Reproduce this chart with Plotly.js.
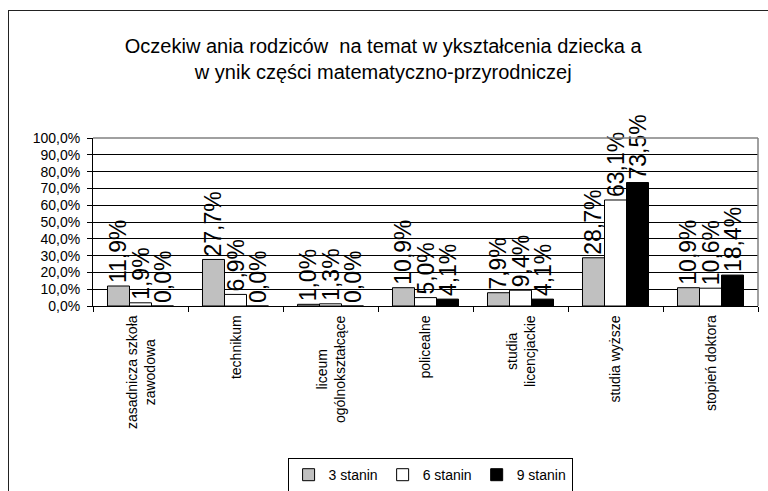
<!DOCTYPE html>
<html>
<head>
<meta charset="utf-8">
<script src="https://cdn.plot.ly/plotly-3.0.1.min.js"></script>
<style>
  html, body { margin: 0; padding: 0; background: #fff; }
  #wrap { position: relative; width: 768px; height: 491px; overflow: hidden; }
  #chart { width: 768px; height: 491px; }
  #frame { position: absolute; left: 8px; top: 10px; width: 800px; height: 500px;
           border-left: 1.5px solid #222; border-top: 1.5px solid #222; pointer-events: none; }
</style>
</head>
<body>
<div id="wrap">
  <div id="chart"></div>
  <div id="frame"></div>
</div>
<script>
const categories = [
  "zasadnicza szkoła<br>zawodowa",
  "technikum",
  "liceum<br>ogólnokształcące",
  "policealne",
  "studia<br>licencjackie",
  "studia wyższe",
  "stopień doktora"
];
const seriesNames = ["3 stanin", "6 stanin", "9 stanin"];
const stanin3 = [11.9, 27.7, 1.0, 10.9, 7.9, 28.7, 10.9];
const stanin6 = [1.9, 6.9, 1.3, 5.0, 9.4, 63.1, 10.6];
const stanin9 = [0.0, 0.0, 0.0, 4.1, 4.1, 73.5, 18.4];
const yTickVals = [0, 10, 20, 30, 40, 50, 60, 70, 80, 90, 100];
const yTickText = ["0,0%", "10,0%", "20,0%", "30,0%", "40,0%", "50,0%", "60,0%", "70,0%", "80,0%", "90,0%", "100,0%"];
const titleText = "Oczekiw ania rodziców  na temat w ykształcenia dziecka a<br>w ynik części matematyczno-przyrodniczej";

const FONT = "Arial, 'Liberation Sans', sans-serif";
const fills = ["#c0c0c0", "#ffffff", "#000000"];
const values = [stanin3, stanin6, stanin9];

const traces = values.map((vals, i) => ({
  type: "bar",
  name: seriesNames[i],
  x: categories,
  y: vals,
  marker: { color: fills[i], line: { color: "#000", width: 1 } },
  texttemplate: "%{y:.1f}%",
  textposition: "outside",
  textangle: -90,
  constraintext: "none",
  cliponaxis: false,
  textfont: { family: FONT, size: 23, color: "#000" },
  hoverinfo: "skip"
}));

const annotations = categories.map(c => ({
  x: c, xref: "x",
  y: -0.045, yref: "paper",
  yanchor: "top", xanchor: "center",
  text: c, textangle: -90, align: "center",
  showarrow: false,
  font: { family: FONT, size: 14, color: "#000" }
}));

const layout = {
  width: 768, height: 491,
  margin: { l: 93, r: 10, t: 138, b: 185 },
  paper_bgcolor: "#fff", plot_bgcolor: "#fff",
  separators: ",.",
  font: { family: FONT, color: "#000" },
  title: {
    text: titleText,
    font: { family: FONT, size: 20, color: "#000" },
    x: 0.499, xref: "container", xanchor: "center",
    y: 0.892, yref: "container", yanchor: "top"
  },
  barmode: "group",
  bargap: 0.305,
  bargroupgap: 0,
  showlegend: true,
  legend: {
    orientation: "h",
    xref: "container", yref: "container",
    x: 0.56, xanchor: "center",
    y: 0.067, yanchor: "top",
    bordercolor: "#000", borderwidth: 1,
    bgcolor: "#fff",
    font: { family: FONT, size: 14, color: "#000" },
    itemwidth: 30,
    traceorder: "normal"
  },
  xaxis: {
    type: "category",
    showticklabels: false,
    showline: true, linecolor: "#000", linewidth: 1,
    ticks: "outside", tickson: "boundaries", ticklen: 5, tickcolor: "#000",
    showgrid: false, zeroline: false,
    fixedrange: true
  },
  yaxis: {
    range: [0, 100],
    tickmode: "array",
    tickvals: yTickVals,
    ticktext: yTickText,
    showline: true, linecolor: "#000", linewidth: 1,
    ticks: "outside", ticklen: 5, tickcolor: "#000",
    ticklabelstandoff: 4,
    showgrid: true, gridcolor: "#000", gridwidth: 1,
    zeroline: false,
    tickfont: { family: FONT, size: 14, color: "#000" },
    fixedrange: true
  },
  shapes: [
    { type: "line", xref: "paper", yref: "paper", x0: 0, x1: 1, y0: 1, y1: 1,
      line: { color: "#808080", width: 1.5 }, layer: "above" },
    { type: "line", xref: "paper", yref: "paper", x0: 1, x1: 1, y0: 0, y1: 1,
      line: { color: "#808080", width: 1.5 }, layer: "above" }
  ],
  annotations: annotations
};

Plotly.newPlot("chart", traces, layout, { displayModeBar: false, staticPlot: true });
</script>
</body>
</html>
